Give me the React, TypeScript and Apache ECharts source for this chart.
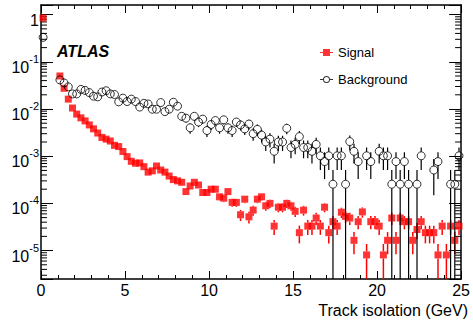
import React, { useEffect, useRef } from 'react';
import * as echarts from 'echarts';

const FONT = '"Liberation Sans", Arial, Helvetica, sans-serif';

// Histogram binning (GeV)
const BIN_WIDTH = 0.25;
const X_MIN = 0;
const X_MAX = 25;
const X_TICKS_INTERVAL = 5;
const Y_MIN = 2.5e-6;
const Y_MAX = 1.6;

// Statistical weight of one entry (for error bars)
const SIGNAL_EVENT_WEIGHT = 4e-6;
const BACKGROUND_EVENT_WEIGHT = 2.55e-4;

// Normalised entries per 0.25 GeV bin, grouped 4 bins per GeV
const signalValues: (number | null)[] = [
  0.85, null, null, null,
  0.0501, 0.0275, 0.0162, 0.0105,
  0.0078, 0.0065, 0.0056, 0.0046,
  0.0038, 0.0031, 0.0025, 0.0023,
  0.0021, 0.0017, 0.0016, 0.00126,
  0.00098, 0.00078, 0.00071, 0.00072,
  0.0006, 0.00046, 0.00049, 0.00062,
  0.00051, 0.00046, 0.00038, 0.00032,
  0.0003, 0.00028, 0.000178, 0.000234,
  0.00028, 0.000245, 0.00017, 0.00017,
  0.0002, 0.0002, 0.000138, 0.000129,
  0.000178, 0.000105, 0.000105, 5.75e-5,
  0.000123, 5.2e-5, 7.2e-5, 0.000123,
  0.000138, 8.9e-5, 0.0001, 3.3e-5,
  8.3e-5, 8.3e-5, 0.0001, 8.9e-5,
  6.8e-5, 2.4e-5, 7.2e-5, 3.3e-5,
  3.3e-5, 4.9e-5, 3.3e-5, 8.3e-5,
  2.4e-5, 4.1e-5, 3.3e-5, 6.5e-5,
  5.3e-5, 4.9e-5, 1.65e-5, 4.1e-5,
  6.6e-5, 8.1e-6, 4.1e-5, 4.1e-5,
  3.3e-5, 8.1e-6, 1.65e-5, 4.9e-5,
  1.65e-5, 4.9e-5, 4.1e-5, 4.1e-5,
  1.65e-5, 2.8e-5, 4.1e-5, 2.4e-5,
  2.4e-5, 2.4e-5, 8.1e-6, 3.3e-5,
  8.1e-6, 3.3e-5, 1.65e-5, 3.3e-5,
];

const backgroundValues: (number | null)[] = [
  0.33, null, null, null,
  0.0414, 0.0357, 0.0295, 0.0209,
  0.0209, 0.026, 0.0248, 0.0223,
  0.0187, 0.0181, 0.0229, 0.0244,
  0.0209, 0.0203, 0.0142, 0.017,
  0.0144, 0.0162, 0.0144, 0.011,
  0.0132, 0.0128, 0.0099, 0.0099,
  0.0137, 0.0088, 0.0099, 0.0139,
  0.0115, 0.007, 0.0064, 0.004,
  0.007, 0.0053, 0.0061, 0.0035,
  0.0047, 0.0057, 0.004, 0.0059,
  0.004, 0.0035, 0.0053, 0.0046,
  0.0038, 0.0048, 0.003, 0.0037,
  0.0028, 0.002, 0.0023, 0.00127,
  0.002, 0.002, 0.0039, 0.00153,
  0.00178, 0.0026, 0.00153, 0.00153,
  0.00127, 0.00178, 0.00102, 0.00077,
  0.00102, 0.000255, 0.00102, 0.00102,
  0.000255, 0.00204, 0.00127, 0.00077,
  null, 0.00102, 0.00077, null,
  0.00127, 0.00102, 0.00102, 0.000255,
  0.00077, 0.000255, 0.00077, 0.000255,
  null, 0.000255, 0.00102, null,
  null, 0.00051, 0.00077, null,
  null, 0.000255, 0.000255, 0.00102,
];

// log-axis minor tick multipliers
const MINOR_MULTIPLIERS = [2, 3, 4, 5, 6, 7, 8, 9];
const DECADES = [-6, -5, -4, -3, -2, -1, 0];

const SIGNAL_ICON =
  'path://M0,3L3,3L3,0L10,0L10,3L13,3L13,4L10,4L10,7L3,7L3,4L0,4Z';
const BACKGROUND_ICON =
  'path://M0,3L3.05,3L3.05,4L0,4Z M9.95,3L13,3L13,4L9.95,4Z ' +
  'M3,3.5A3.5,3.5 0 1,1 10,3.5A3.5,3.5 0 1,1 3,3.5Z ' +
  'M4,3.5A2.5,2.5 0 1,0 9,3.5A2.5,2.5 0 1,0 4,3.5Z';

function buildPoints(values: (number | null)[], weight: number) {
  const pts: number[][] = [];
  values.forEach((v, i) => {
    if (v == null) return;
    const c = (i + 0.5) * BIN_WIDTH;
    pts.push([c, v, Math.sqrt(v * weight)]);
  });
  return pts;
}

function errorRenderer(color: string, halfMarker: number, width: number) {
  return (params: any, api: any) => {
    const x = api.value(0);
    const y = api.value(1);
    const e = api.value(2);
    const lo = Math.max(y - e, Y_MIN);
    const hi = Math.min(y + e, Y_MAX);
    const pc = api.coord([x, y]);
    const plo = api.coord([x, lo]);
    const phi = api.coord([x, hi]);
    const children: any[] = [];
    const top = pc[1] - halfMarker;
    const bot = pc[1] + halfMarker;
    if (phi[1] < top) {
      children.push({
        type: 'line',
        shape: { x1: pc[0], y1: phi[1], x2: pc[0], y2: top },
        style: { stroke: color, lineWidth: width },
      });
    }
    if (plo[1] > bot) {
      children.push({
        type: 'line',
        shape: { x1: pc[0], y1: bot, x2: pc[0], y2: plo[1] },
        style: { stroke: color, lineWidth: width },
      });
    }
    return { type: 'group', children };
  };
}

function yLabel(val: number) {
  const l = Math.log10(val);
  const e = Math.round(l);
  if (Math.abs(l - e) > 1e-6) return '';
  if (e === 0) return '{b|1}';
  return `{b|10}{s|${e}}`;
}

export default function App() {
  const ref = useRef<HTMLDivElement>(null);

  useEffect(() => {
    if (!ref.current) return;
    const chart = echarts.init(ref.current, undefined, { renderer: 'svg' });

    const sigPts = buildPoints(signalValues, SIGNAL_EVENT_WEIGHT);
    const bkgPts = buildPoints(backgroundValues, BACKGROUND_EVENT_WEIGHT);
    const minorTicks: number[][] = [];
    DECADES.forEach((d) =>
      MINOR_MULTIPLIERS.forEach((m) => {
        const v = m * Math.pow(10, d);
        if (v > Y_MIN && v < Y_MAX) minorTicks.push([X_MIN, v]);
      })
    );

    const axisLine = { show: true, onZero: false, lineStyle: { color: '#000', width: 1.5 } };
    const xCommon = {
      type: 'value' as const,
      min: X_MIN,
      max: X_MAX,
      interval: X_TICKS_INTERVAL,
      axisLine,
      axisTick: { show: true, inside: true, length: 8, lineStyle: { color: '#000', width: 1 } },
      minorTick: { show: true, splitNumber: 5, length: 4, lineStyle: { color: '#000', width: 1 } },
      splitLine: { show: false },
    };
    const yCommon = {
      type: 'log' as const,
      logBase: 10,
      min: Y_MIN,
      max: Y_MAX,
      axisLine,
      axisTick: { show: true, inside: true, length: 12, lineStyle: { color: '#000', width: 1 } },
      minorTick: { show: false },
      splitLine: { show: false },
    };

    chart.setOption({
      animation: false,
      backgroundColor: '#fff',
      grid: { left: 41, right: 5, top: 5, bottom: 41, containLabel: false },
      xAxis: [
        {
          ...xCommon,
          position: 'bottom',
          axisLabel: { show: true, margin: 3, fontSize: 16, fontFamily: FONT, color: '#000' },
        },
        { ...xCommon, position: 'top', axisLabel: { show: false } },
      ],
      yAxis: [
        {
          ...yCommon,
          position: 'left',
          axisLabel: {
            show: true,
            margin: 2,
            formatter: yLabel,
            padding: [5, 0, 0, 0],
            rich: {
              b: { fontSize: 16, fontFamily: FONT, color: '#000', lineHeight: 22, verticalAlign: 'bottom' },
              s: { fontSize: 11, fontFamily: FONT, color: '#000', lineHeight: 11, verticalAlign: 'top' },
            },
          },
        },
        { ...yCommon, position: 'right', axisLabel: { show: false } },
      ],
      legend: {
        orient: 'vertical',
        left: 315,
        top: 41,
        itemWidth: 13,
        itemHeight: 7,
        itemGap: 14,
        selectedMode: false,
        textStyle: { fontSize: 13, fontFamily: FONT, color: '#000' },
        data: [
          { name: 'Signal', icon: SIGNAL_ICON, itemStyle: { color: '#ff0000', borderWidth: 0 } },
          { name: 'Background', icon: BACKGROUND_ICON, itemStyle: { color: '#000', borderWidth: 0 } },
        ],
      },
      graphic: [
        {
          type: 'text',
          x: 57,
          y: 51,
          style: {
            text: 'ATLAS',
            font: `italic bold 16px ${FONT}`,
            fill: '#000',
            textVerticalAlign: 'middle',
          },
        },
        {
          type: 'text',
          x: 468,
          y: 310,
          style: {
            text: 'Track isolation (GeV)',
            font: `16px ${FONT}`,
            fill: '#000',
            textAlign: 'right',
            textVerticalAlign: 'middle',
          },
        },
      ],
      series: [
        {
          name: 'minorTicks',
          type: 'custom',
          silent: true,
          xAxisIndex: 0,
          yAxisIndex: 0,
          data: minorTicks,
          renderItem: (params: any, api: any) => {
            const v = api.value(1);
            const p0 = api.coord([X_MIN, v]);
            const p1 = api.coord([X_MAX, v]);
            return {
              type: 'group',
              children: [
                { type: 'line', shape: { x1: p0[0], y1: p0[1], x2: p0[0] + 6, y2: p0[1] }, style: { stroke: '#000', lineWidth: 1 } },
                { type: 'line', shape: { x1: p1[0] - 6, y1: p1[1], x2: p1[0], y2: p1[1] }, style: { stroke: '#000', lineWidth: 1 } },
              ],
            };
          },
        },
        {
          name: 'signalErr',
          type: 'custom',
          silent: true,
          data: sigPts,
          renderItem: errorRenderer('#ff0000', 3.5, 1.5),
          z: 2,
        },
        {
          name: 'Signal',
          type: 'scatter',
          data: sigPts.map((p) => [p[0], p[1]]),
          symbol: 'rect',
          symbolSize: 7,
          itemStyle: { color: '#ff0000' },
          z: 3,
        },
        {
          name: 'backgroundErr',
          type: 'custom',
          silent: true,
          data: bkgPts,
          renderItem: errorRenderer('#000', 4, 1.2),
          z: 4,
        },
        {
          name: 'Background',
          type: 'scatter',
          data: bkgPts.map((p) => [p[0], p[1]]),
          symbol: 'circle',
          symbolSize: 8,
          itemStyle: { color: 'rgba(0,0,0,0)', borderColor: '#000', borderWidth: 1 },
          z: 5,
        },
      ],
    });

    return () => chart.dispose();
  }, []);

  return (
    <div
      ref={ref}
      style={{ position: 'absolute', left: 0, top: 0, width: 473, height: 320 }}
    />
  );
}
